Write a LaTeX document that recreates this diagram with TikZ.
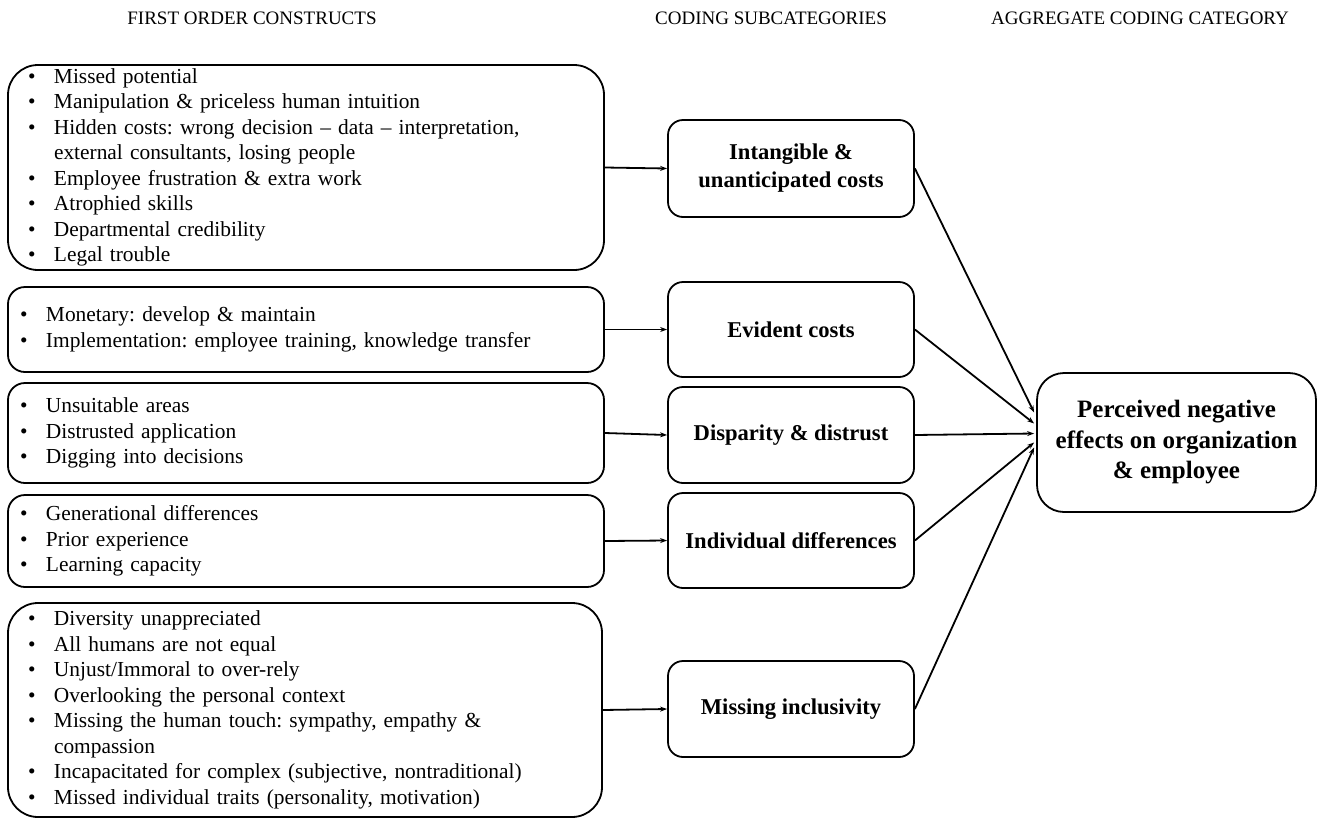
\documentclass[tikz,border=0pt]{standalone}
\usepackage{fontspec}
\setmainfont{Liberation Serif}
\usetikzlibrary{arrows.meta}
\frenchspacing

\newcommand{\bulletitem}{\makebox[26pt][l]{\textbullet}}
\newcommand{\contitem}{\hspace*{26pt}}

\begin{document}
\begin{tikzpicture}[x = 1pt, y = -1pt,
    construct/.style = {draw, line width = 1.8pt, align = left, inner ysep = 0pt, text width = 572pt, inner xsep = 12pt, rounded corners = 17pt, font = \fontsize{21.4}{25.5}\selectfont},
    subcat/.style = {draw, line width = 1.8pt, align = center, minimum width = 246pt, minimum height = 96pt, rounded corners = 15pt, font = \fontsize{22.6}{28}\selectfont\bfseries},
    aggregate/.style = {draw, line width = 1.8pt, align = center, minimum width = 279pt, minimum height = 139pt, rounded corners = 27pt, font = \fontsize{25}{30.5}\selectfont\bfseries},
    header/.style = {anchor = base, font = \fontsize{19}{23}\selectfont},
    link/.style = {line width = 1.8pt, -{Stealth[length = 7pt, width = 5pt]}}]
    \useasboundingbox (0, 0) rectangle (1317, 817);

    \node [header] (hfirst) at (252, 24) {FIRST ORDER CONSTRUCTS};
    \node [header] (hsub) at (771, 24) {CODING SUBCATEGORIES};
    \node [header] (hagg) at (1140, 24) {AGGREGATE CODING CATEGORY};

    \node [construct, rounded corners = 30pt, inner xsep = 20pt, text width = 556pt, minimum height = 205pt] (first1) at (306, 167.5) {%
        \bulletitem Missed potential\\
        \bulletitem Manipulation \& priceless human intuition\\
        \bulletitem Hidden costs: wrong decision -- data -- interpretation,\\
        \contitem external consultants, losing people\\
        \bulletitem Employee frustration \& extra work\\
        \bulletitem Atrophied skills\\
        \bulletitem Departmental credibility\\
        \bulletitem Legal trouble};
    \node [construct, minimum height = 85pt] (first2) at (306, 329.5) {%
        \bulletitem Monetary: develop \& maintain\\
        \bulletitem Implementation: employee training, knowledge transfer};
    \node [construct, minimum height = 100pt] (first3) at (306, 433) {%
        \bulletitem Unsuitable areas\\
        \bulletitem Distrusted application\\
        \bulletitem Digging into decisions};
    \node [construct, minimum height = 92pt] (first4) at (306, 541) {%
        \bulletitem Generational differences\\
        \bulletitem Prior experience\\
        \bulletitem Learning capacity};
    \node [construct, rounded corners = 30pt, inner xsep = 20pt, text width = 554pt, minimum height = 214pt] (first5) at (305, 710) {%
        \bulletitem Diversity unappreciated\\
        \bulletitem All humans are not equal\\
        \bulletitem Unjust/Immoral to over-rely\\
        \bulletitem Overlooking the personal context\\
        \bulletitem Missing the human touch: sympathy, empathy \&\\
        \contitem compassion\\
        \bulletitem Incapacitated for complex (subjective, nontraditional)\\
        \bulletitem Missed individual traits (personality, motivation)};

    \node [subcat, minimum height = 97pt] (sub1) at (791, 168.5) {Intangible \&\\unanticipated costs};
    \node [subcat, minimum height = 95pt] (sub2) at (791, 329.5) {Evident costs};
    \node [subcat] (sub3) at (791, 435) {Disparity \& distrust};
    \node [subcat, minimum height = 95pt] (sub4) at (791, 540.5) {Individual differences};
    \node [subcat] (sub5) at (791, 709) {Missing inclusivity};

    \node [aggregate] (agg) at (1176.5, 442.5) {Perceived negative\\effects on organization\\\& employee};

    \draw [link] (first1.east) -- (sub1.west);
    \draw [link] (first2.east) -- (sub2.west);
    \draw [link] (first3.east) -- (sub3.west);
    \draw [link] (first4.east) -- (sub4.west);
    \draw [link] (first5.east) -- (sub5.west);

    \draw [link] (sub1.east) -- ([yshift = 30pt, xshift = -2pt] agg.west);
    \draw [link] (sub2.east) -- ([yshift = 19pt, xshift = -2pt] agg.west);
    \draw [link] (sub3.east) -- ([yshift = 9pt, xshift = -2pt] agg.west);
    \draw [link] (sub4.east) -- ([xshift = -2pt] agg.west);
    \draw [link] (sub5.east) -- ([yshift = -5pt, xshift = -2pt] agg.west);
\end{tikzpicture}
\end{document}
